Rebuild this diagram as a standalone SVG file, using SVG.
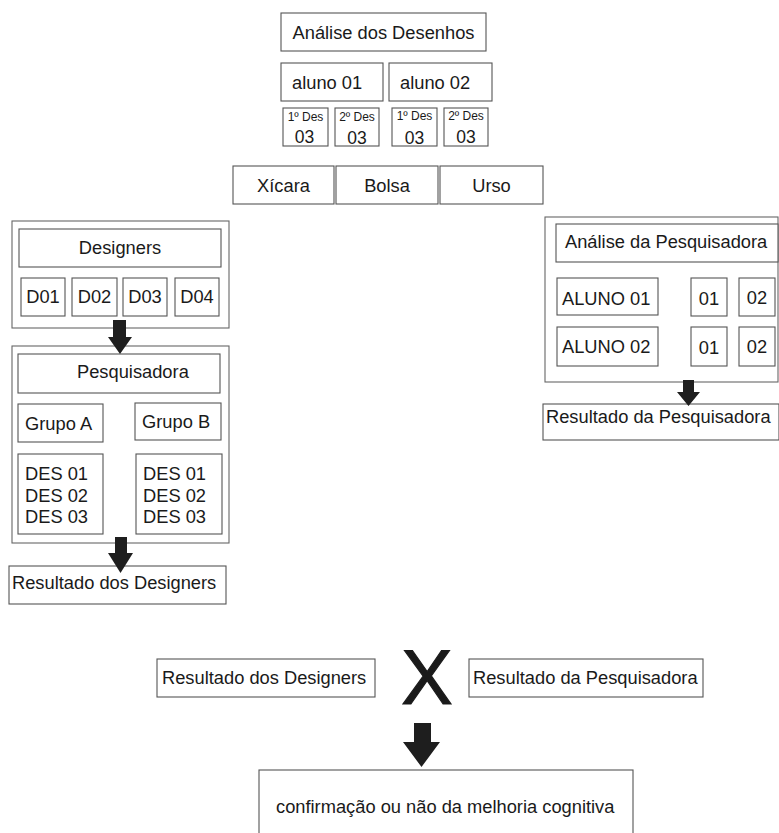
<svg xmlns="http://www.w3.org/2000/svg" width="779" height="833" viewBox="0 0 779 833">
  <style>
    .box { fill: #fff; stroke: #555; stroke-width: 1.1; }
    .frame { fill: none; stroke: #666; stroke-width: 1.1; }
    text { font-family: "Liberation Sans", Arial, sans-serif; font-size: 18.3px; fill: #1a1a1a; }
    .c { text-anchor: middle; }
    .sm { font-size: 12px; }
    .num { font-size: 17.5px; }
    .big { font-size: 77px; stroke: #1a1a1a; stroke-width: 1.2; }
    .arrow { fill: #1e1e1e; }
  </style>
  <rect width="779" height="833" fill="#fff"/>

  <!-- top block: drawings analysis -->
  <g id="analise-desenhos">
    <rect class="box" x="281" y="13" width="205" height="38"/>
    <text class="c" x="383.5" y="39">Análise dos Desenhos</text>
  </g>
  <g id="aluno01">
    <rect class="box" x="281" y="63" width="102" height="38"/>
    <text x="292" y="89">aluno 01</text>
  </g>
  <g id="aluno02">
    <rect class="box" x="389" y="63" width="103" height="38"/>
    <text x="400" y="89">aluno 02</text>
  </g>
  <g id="a1-des1">
    <rect class="box" x="283" y="108" width="45" height="38"/>
    <text class="c sm" x="305.5" y="121">1º Des</text>
    <text class="c num" x="304.5" y="143">03</text>
  </g>
  <g id="a1-des2">
    <rect class="box" x="335" y="108" width="44" height="38"/>
    <text class="c sm" x="357" y="121">2º Des</text>
    <text class="c num" x="357" y="144">03</text>
  </g>
  <g id="a2-des1">
    <rect class="box" x="392" y="108" width="45" height="38"/>
    <text class="c sm" x="414.5" y="120">1º Des</text>
    <text class="c num" x="414.5" y="144">03</text>
  </g>
  <g id="a2-des2">
    <rect class="box" x="444" y="108" width="44" height="38"/>
    <text class="c sm" x="466" y="120">2º Des</text>
    <text class="c num" x="466" y="143">03</text>
  </g>
  <g id="xicara">
    <rect class="box" x="233" y="166" width="101" height="38"/>
    <text class="c" x="283.5" y="192">Xícara</text>
  </g>
  <g id="bolsa">
    <rect class="box" x="336" y="166" width="102" height="38"/>
    <text class="c" x="387" y="192">Bolsa</text>
  </g>
  <g id="urso">
    <rect class="box" x="440" y="166" width="103" height="38"/>
    <text class="c" x="491.5" y="192">Urso</text>
  </g>

  <!-- left column: designers -->
  <g id="designers">
    <rect class="frame" x="12" y="221" width="217" height="107"/>
    <rect class="box" x="19" y="229" width="202" height="38"/>
    <text class="c" x="120" y="254">Designers</text>
    <rect class="box" x="21" y="278" width="44" height="38"/>
    <text class="c" x="43" y="303">D01</text>
    <rect class="box" x="72" y="278" width="45" height="38"/>
    <text class="c" x="94.5" y="303">D02</text>
    <rect class="box" x="123" y="278" width="44" height="38"/>
    <text class="c" x="145" y="303">D03</text>
    <rect class="box" x="175" y="278" width="44" height="38"/>
    <text class="c" x="197" y="303">D04</text>
  </g>

  <g id="pesquisadora">
    <rect class="frame" x="12" y="346" width="217" height="197"/>
    <rect class="box" x="18" y="354" width="202" height="39"/>
    <text x="77" y="378">Pesquisadora</text>
    <rect class="box" x="18" y="404" width="85" height="38"/>
    <text x="25" y="430">Grupo A</text>
    <rect class="box" x="135" y="403" width="86" height="37"/>
    <text x="142" y="428">Grupo B</text>
    <rect class="box" x="18" y="454" width="85" height="80"/>
    <text x="25" y="480">DES 01</text>
    <text x="25" y="502">DES 02</text>
    <text x="25" y="523">DES 03</text>
    <rect class="box" x="136" y="454" width="86" height="80"/>
    <text x="143" y="480">DES 01</text>
    <text x="143" y="502">DES 02</text>
    <text x="143" y="523">DES 03</text>
  </g>

  <g id="resultado-designers">
    <rect class="box" x="9" y="566" width="217" height="38"/>
    <text x="12" y="589">Resultado dos Designers</text>
  </g>

  <!-- right column: researcher analysis -->
  <g id="analise-pesquisadora">
    <rect class="frame" x="545" y="217" width="233" height="165"/>
    <rect class="box" x="556" y="224" width="222" height="38"/>
    <text x="565" y="248">Análise da Pesquisadora</text>
    <rect class="box" x="557" y="278" width="101" height="37"/>
    <text x="562" y="305">ALUNO 01</text>
    <rect class="box" x="557" y="327" width="101" height="39"/>
    <text x="562" y="353">ALUNO 02</text>
    <rect class="box" x="691" y="278" width="36" height="38"/>
    <text class="c" x="709" y="305">01</text>
    <rect class="box" x="739" y="278" width="36" height="38"/>
    <text class="c" x="757" y="304">02</text>
    <rect class="box" x="691" y="327" width="36" height="39"/>
    <text class="c" x="709" y="354">01</text>
    <rect class="box" x="739" y="327" width="36" height="39"/>
    <text class="c" x="757" y="353">02</text>
  </g>

  <g id="resultado-pesquisadora">
    <rect class="box" x="543" y="404" width="236" height="36"/>
    <text x="546" y="423">Resultado da Pesquisadora</text>
  </g>

  <!-- comparison -->
  <g id="cmp-designers">
    <rect class="box" x="157" y="659" width="218" height="38"/>
    <text x="162" y="684">Resultado dos Designers</text>
  </g>
  <g id="versus">
    <text class="c big" x="427" y="704">X</text>
  </g>
  <g id="cmp-pesquisadora">
    <rect class="box" x="469" y="659" width="234" height="38"/>
    <text x="473" y="684">Resultado da Pesquisadora</text>
  </g>
  <g id="confirmacao">
    <rect class="box" x="259" y="770" width="374" height="80"/>
    <text x="276" y="813">confirmação ou não da melhoria cognitiva</text>
  </g>

  <!-- block arrows -->
  <g id="connectors">
    <polygon class="arrow" points="113,320 126,320 126,337 132,337 120,354 108,337 113,337"/>
    <polygon class="arrow" points="115,537 127,537 127,553 133,553 120.5,573 108,553 115,553"/>
    <polygon class="arrow" points="683,380 694,380 694,392 700,392 688.5,406 677,392 683,392"/>
    <polygon class="arrow" points="414,723 431,723 431,742 440,742 421.5,767 403,742 414,742"/>
  </g>
</svg>
